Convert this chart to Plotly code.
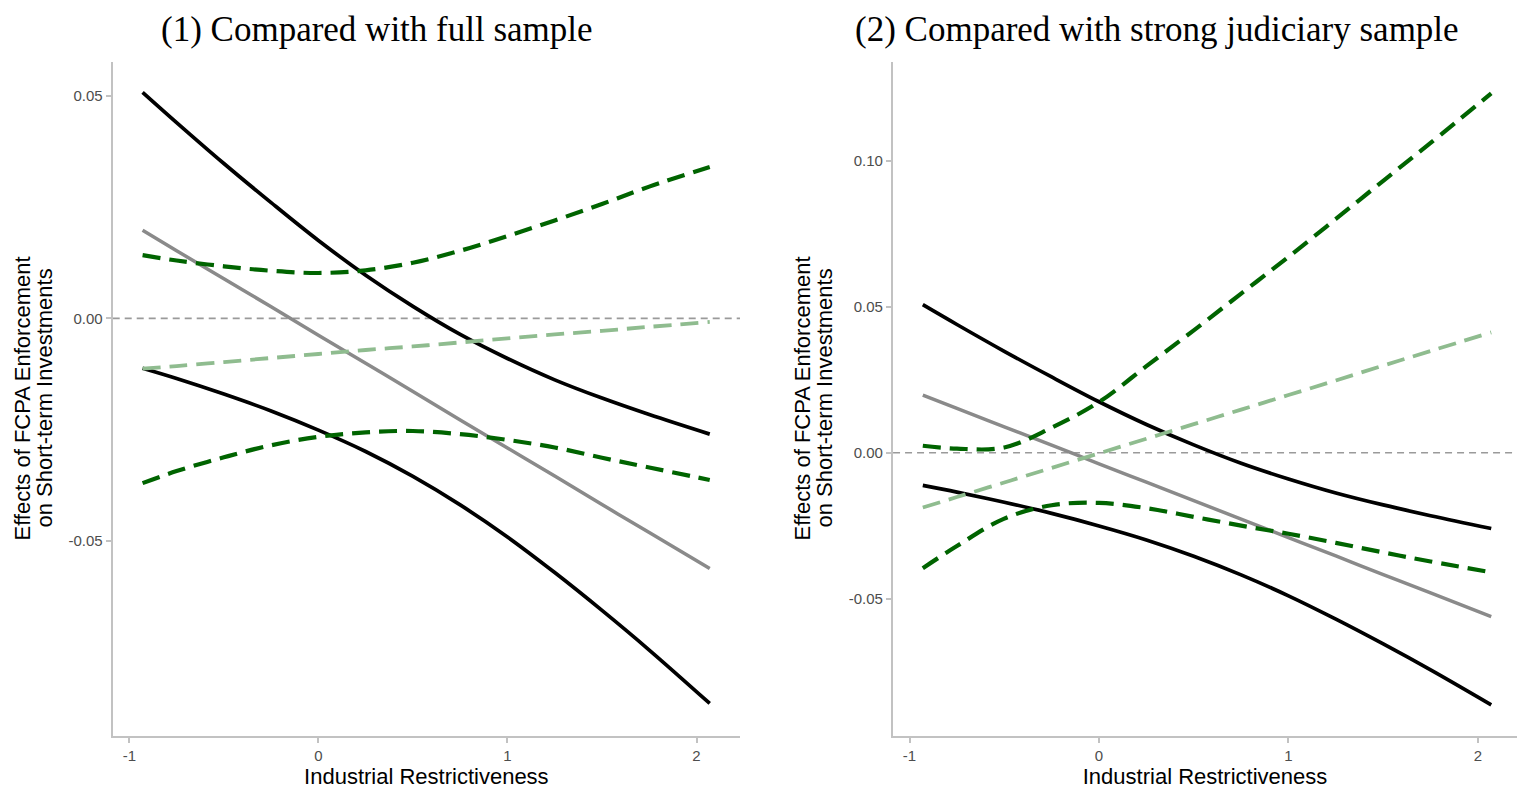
import plotly.graph_objects as go

# Values of Industrial Restrictiveness at which the marginal effects are evaluated
x_grid = [-0.93, -0.75, -0.5, -0.25, 0.0, 0.25, 0.5, 0.75, 1.0, 1.25, 1.5, 1.75, 2.07]

# Baseline sample: point estimate and 95% confidence bounds
base_est = [0.0198, 0.0152, 0.0089, 0.0026, -0.0038, -0.0101, -0.0164, -0.0228, -0.0291,
            -0.0354, -0.0418, -0.0481, -0.0562]
base_hi = [0.0508, 0.0440, 0.0348, 0.0260, 0.0175, 0.0097, 0.0027, -0.0036, -0.0090,
           -0.0138, -0.0179, -0.0216, -0.0260]
base_lo = [-0.0112, -0.0135, -0.0170, -0.0208, -0.0251, -0.0299, -0.0355, -0.0419, -0.0491,
           -0.0571, -0.0656, -0.0745, -0.0865]

# (1) Full sample
full_est = [-0.0113, -0.0107, -0.0098, -0.0089, -0.0080, -0.0071, -0.0063, -0.0054, -0.0045,
            -0.0036, -0.0028, -0.0019, -0.0008]
full_hi = [0.0142, 0.0130, 0.0117, 0.0107, 0.0102, 0.0108, 0.0125, 0.0152, 0.0185,
           0.0220, 0.0257, 0.0296, 0.0340]
full_lo = [-0.0370, -0.0343, -0.0312, -0.0285, -0.0266, -0.0256, -0.0253, -0.0260, -0.0273,
           -0.0290, -0.0313, -0.0335, -0.0363]

# (2) Strong judiciary sample
strong_est = [-0.0188, -0.0152, -0.0102, -0.0052, -0.0002, 0.0048, 0.0098, 0.0148, 0.0198,
              0.0248, 0.0299, 0.0349, 0.0413]
strong_hi = [0.0024, 0.0014, 0.0018, 0.0086, 0.0174, 0.0297, 0.0420, 0.0546, 0.0672,
             0.0802, 0.0933, 0.1063, 0.1233]
strong_lo = [-0.0396, -0.0320, -0.0226, -0.0180, -0.0172, -0.0190, -0.0220, -0.0250, -0.0278,
             -0.0309, -0.0342, -0.0373, -0.0410]

x_ticks = [-1, 0, 1, 2]
x_tick_text = ["-1", "0", "1", "2"]
y1_ticks = [-0.05, 0.0, 0.05]
y1_tick_text = ["-0.05", "0.00", "0.05"]
y2_ticks = [-0.05, 0.0, 0.05, 0.10]
y2_tick_text = ["-0.05", "0.00", "0.05", "0.10"]

panel_titles = ["(1) Compared with full sample", "(2) Compared with strong judiciary sample"]
x_title = "Industrial Restrictiveness"
y_title_lines = ["Effects of FCPA Enforcement", "on Short-term Investments"]

BLACK = "#000000"
GREY = "#8a8a8a"
DARK_GREEN = "#006400"
LIGHT_GREEN = "#8fbc8f"
AXIS_GREY = "#c2c2c2"
DASH = "18px,9px"

fig = go.Figure()


def add_panel(xa, ya, est, hi, lo):
    common = dict(x=x_grid, mode="lines", xaxis=xa, yaxis=ya, showlegend=False,
                  hoverinfo="skip")
    fig.add_trace(go.Scatter(y=base_hi, line=dict(color=BLACK, width=3.7, shape="spline"), **common))
    fig.add_trace(go.Scatter(y=base_lo, line=dict(color=BLACK, width=3.7, shape="spline"), **common))
    fig.add_trace(go.Scatter(y=base_est, line=dict(color=GREY, width=3.5, shape="spline"), **common))
    fig.add_trace(go.Scatter(y=est, line=dict(color=LIGHT_GREEN, width=3.8, dash=DASH,
                                              shape="spline"), **common))
    fig.add_trace(go.Scatter(y=hi, line=dict(color=DARK_GREEN, width=4.2, dash=DASH,
                                             shape="spline"), **common))
    fig.add_trace(go.Scatter(y=lo, line=dict(color=DARK_GREEN, width=4.2, dash=DASH,
                                             shape="spline"), **common))


add_panel("x", "y", full_est, full_hi, full_lo)
add_panel("x2", "y2", strong_est, strong_hi, strong_lo)

# dashed reference line at zero in each panel
for xref, yref in (("x domain", "y"), ("x2 domain", "y2")):
    fig.add_shape(type="line", xref=xref, yref=yref, x0=0, x1=1, y0=0, y1=0,
                  line=dict(color="#9a9a9a", width=1.6, dash="7px,5px"), layer="below")

tick_font = dict(family="Liberation Sans, Arial, sans-serif", size=15, color="#4d4d4d")
title_font = dict(family="Liberation Sans, Arial, sans-serif", size=22, color="#000000")

axis_common = dict(showline=True, linecolor=AXIS_GREY, linewidth=2.2, ticks="outside",
                   ticklen=5, tickwidth=2, tickcolor=AXIS_GREY, showgrid=False,
                   zeroline=False, tickfont=tick_font)

y_dom = [0.0678, 0.922]

fig.update_layout(
    width=1517, height=789,
    margin=dict(l=0, r=0, t=0, b=0),
    paper_bgcolor="white", plot_bgcolor="white",
    xaxis=dict(domain=[0.0743, 0.4878], range=[-1.088, 2.23], anchor="y",
               tickvals=x_ticks, ticktext=x_tick_text,
               title=dict(text=x_title, font=title_font, standoff=4), **axis_common),
    yaxis=dict(domain=y_dom, range=[-0.0937, 0.0577], anchor="x",
               tickvals=y1_ticks, ticktext=y1_tick_text, **axis_common),
    xaxis2=dict(domain=[0.5887, 1.0], range=[-1.087, 2.206], anchor="y2",
                tickvals=x_ticks, ticktext=x_tick_text,
                title=dict(text=x_title, font=title_font, standoff=4), **axis_common),
    yaxis2=dict(domain=y_dom, range=[-0.0970, 0.1342], anchor="x2",
                tickvals=y2_ticks, ticktext=y2_tick_text, **axis_common),
)

# two-line rotated y-axis titles, set with tight line spacing
y_mid = (y_dom[0] + y_dom[1]) / 2
for line_x in ([23, 45], [803, 825]):
    for px, txt in zip(line_x, y_title_lines):
        fig.add_annotation(text=txt, x=px / 1517, y=y_mid, xref="paper", yref="paper",
                           xanchor="center", yanchor="middle", textangle=-90,
                           showarrow=False, font=title_font)

title_font_serif = dict(family="Liberation Serif, Times New Roman, serif", size=35, color="#000000")
for cx, txt in zip([377 / 1517, 1157 / 1517], panel_titles):
    fig.add_annotation(text=txt, x=cx, y=1 - 30 / 789, xref="paper", yref="paper",
                       xanchor="center", yanchor="middle", showarrow=False,
                       font=title_font_serif)

fig.write_html("out.html")
